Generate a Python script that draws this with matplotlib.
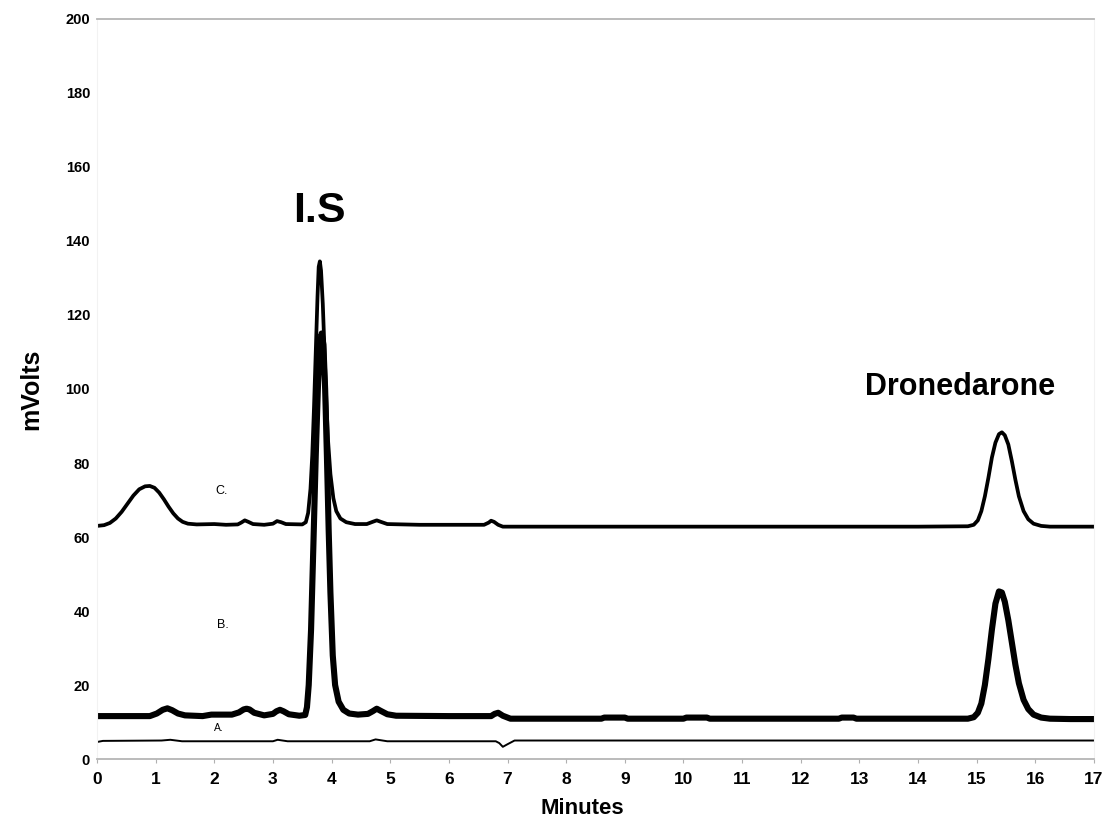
# import libraries
import matplotlib
matplotlib.use("Agg")
import matplotlib.pyplot as plt

#########################################################
                # Chromatogram data
#########################################################

# trace C - top chromatogram
c_time = [0.0, 0.12, 0.22, 0.32, 0.42, 0.52, 0.62, 0.72, 0.82, 0.9, 0.98, 1.06, 1.14, 1.22,
          1.3, 1.38, 1.46, 1.55, 1.7, 2.0, 2.2, 2.4, 2.46, 2.52, 2.58, 2.66, 2.85, 3.0,
          3.07, 3.14, 3.22, 3.5, 3.56, 3.6, 3.64, 3.67, 3.7, 3.73, 3.76, 3.78, 3.8, 3.82,
          3.85, 3.88, 3.91, 3.94, 3.98, 4.03, 4.08, 4.15, 4.25, 4.4, 4.6, 4.7, 4.77, 4.84,
          4.95, 5.5, 6.6, 6.68, 6.72, 6.77, 6.84, 6.92, 8.0, 10.0, 12.0, 14.0, 14.85, 14.95,
          15.02, 15.08, 15.14, 15.2, 15.26, 15.32, 15.38, 15.43, 15.48, 15.54, 15.6, 15.66,
          15.72, 15.8, 15.88, 15.97, 16.1, 16.25, 16.5, 17.0]
c_mv = [63.0, 63.2, 63.8, 65.0, 66.8, 69.0, 71.2, 72.9, 73.7, 73.8, 73.3, 72.0, 70.2, 68.2,
        66.4, 65.0, 64.1, 63.6, 63.4, 63.5, 63.3, 63.4, 63.9, 64.5, 64.1, 63.5, 63.3, 63.6,
        64.3, 64.0, 63.5, 63.4, 64.0, 66.5, 73.0, 82.0, 95.0, 110.0, 125.0, 133.0, 134.5, 132.0,
        123.0, 110.0, 97.0, 86.0, 77.0, 70.5, 67.0, 65.0, 64.0, 63.5, 63.5, 64.1, 64.5, 64.1,
        63.5, 63.3, 63.3, 63.9, 64.4, 64.1, 63.3, 62.8, 62.8, 62.8, 62.8, 62.8, 62.9, 63.3,
        64.5, 67.0, 71.0, 76.0, 81.5, 85.5, 87.8, 88.3, 87.5, 85.0, 80.5, 75.5,
        71.0, 67.0, 64.8, 63.6, 63.0, 62.8, 62.8, 62.8]

# trace B - middle chromatogram
b_time = [0.0, 0.9, 1.02, 1.12, 1.2, 1.28, 1.38, 1.5, 1.8, 1.95, 2.3, 2.42, 2.5, 2.55, 2.6,
          2.68, 2.85, 3.0, 3.06, 3.12, 3.18, 3.27, 3.45, 3.55, 3.58, 3.61, 3.65, 3.69, 3.73,
          3.77, 3.8, 3.83, 3.86, 3.89, 3.92, 3.95, 3.98, 4.02, 4.06, 4.12, 4.2, 4.3, 4.45,
          4.62, 4.7, 4.77, 4.84, 4.95, 5.1, 6.0, 6.72, 6.78, 6.84, 6.92, 7.05, 8.6,
          8.65, 9.0, 9.05, 10.0, 10.05, 10.4, 10.45, 12.65, 12.7, 12.9, 12.95, 14.85, 14.95,
          15.02, 15.08, 15.14, 15.2, 15.26, 15.32, 15.38, 15.43, 15.48, 15.54, 15.6, 15.66,
          15.72, 15.8, 15.88, 15.97, 16.1, 16.25, 16.6, 17.0]
b_mv = [11.6, 11.6, 12.3, 13.3, 13.7, 13.2, 12.3, 11.8, 11.6, 12.0, 12.0, 12.6, 13.4, 13.6, 13.4,
        12.5, 11.8, 12.2, 12.9, 13.3, 12.9, 12.1, 11.7, 11.9, 14.0, 20.0, 35.0, 58.0, 82.0,
        102.0, 112.0, 115.0, 112.0, 100.0, 82.0, 62.0, 45.0, 28.0, 20.0, 15.5, 13.3, 12.3, 12.0,
        12.2, 12.9, 13.6, 13.0, 12.1, 11.7, 11.6, 11.6, 12.2, 12.5, 11.7, 10.9, 10.9,
        11.2, 11.2, 10.9, 10.9, 11.2, 11.2, 10.9, 10.9, 11.2, 11.2, 10.9, 10.9, 11.3,
        12.5, 15.0, 20.0, 27.0, 35.0, 42.0, 45.3, 45.0, 42.5, 37.5, 31.5, 25.5,
        20.5, 16.0, 13.5, 12.0, 11.2, 10.9, 10.8, 10.8]

# trace A - bottom chromatogram (blank)
a_time = [0.0, 0.1, 1.1, 1.25, 1.45, 3.0, 3.08, 3.25, 4.65, 4.75, 4.95, 6.8, 6.86, 6.92,
          7.0, 7.12, 17.0]
a_mv = [4.6, 4.9, 5.0, 5.2, 4.8, 4.8, 5.2, 4.8, 4.8, 5.3, 4.8, 4.8, 4.3, 3.3, 4.0, 5.0, 5.0]

# trace labels and peak names
trace_labels = ["C.", "B.", "A."]
trace_label_pos = [(2.13, 72.5), (2.15, 36.3), (2.08, 8.4)]
peak_names = ["I.S", "Dronedarone"]
peak_name_pos = [(3.8, 148.0), (14.72, 100.5)]

x_ticks = list(range(0, 18))
y_ticks = list(range(0, 201, 20))

#########################################################
                # Plot
#########################################################

plt.rcParams["font.family"] = ["Liberation Sans", "DejaVu Sans"]

fig = plt.figure(figsize=(11.05, 8.18), dpi=100)
ax = fig.add_axes([0.0878, 0.0721, 0.9022, 0.9047])

ax.plot(c_time, c_mv, color="black", linewidth=2.7, solid_joinstyle="round", solid_capstyle="round")
ax.plot(b_time, b_mv, color="black", linewidth=4.4, solid_joinstyle="round", solid_capstyle="round")
ax.plot(a_time, a_mv, color="black", linewidth=1.4, solid_joinstyle="round")

for lab, (tx, ty), fs in zip(trace_labels, trace_label_pos, [9, 9, 7.5]):
    ax.text(tx, ty, lab, fontsize=fs, ha="center", va="center")

for name, (tx, ty), fs in zip(peak_names, peak_name_pos, [31, 22]):
    ax.text(tx, ty, name, fontsize=fs, fontweight="bold", ha="center", va="center")

ax.set_xlim(0, 17)
ax.set_ylim(0, 200)
ax.set_xticks(x_ticks)
ax.set_yticks(y_ticks)
ax.tick_params(axis="x", labelsize=12.5, length=3, color="#b0b0b0", pad=6)
ax.tick_params(axis="y", labelsize=10.5, length=0, pad=5)
for lbl in ax.get_xticklabels() + ax.get_yticklabels():
    lbl.set_fontweight("bold")

ax.spines["top"].set_color("#b5b5b5")
ax.spines["bottom"].set_color("#b5b5b5")
ax.spines["left"].set_color("#f2f2f2")
ax.spines["right"].set_color("#f2f2f2")
for s in ["top", "bottom"]:
    ax.spines[s].set_linewidth(1.3)

ax.set_xlabel("Minutes", fontsize=16, fontweight="bold")
ax.xaxis.set_label_coords(0.487, -0.052)
ax.set_ylabel("mVolts", fontsize=18, fontweight="bold", labelpad=16)

plt.savefig("out.png", dpi=100)
